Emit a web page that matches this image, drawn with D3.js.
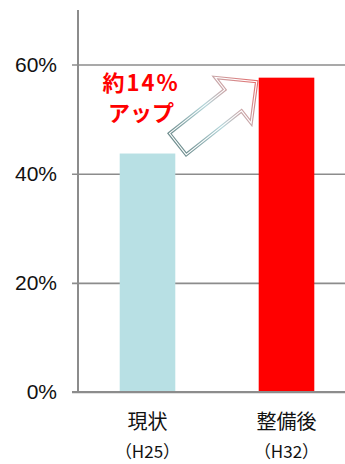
<!DOCTYPE html>
<html>
<head>
<meta charset="utf-8">
<script src="https://cdn.jsdelivr.net/npm/d3@7"></script>
<style>
  body { margin: 0; background: #fff; }
  svg { display: block; }
</style>
</head>
<body>
<div class="chart"></div>
<script>
const categories = ['現状', '整備後'];
const subLabels = ['（H25）', '（H32）'];
const values = [43.7, 57.6];
const colors = ['#b8e0e4', '#ff0000'];
const ticks = [0, 20, 40, 60];
const note = ['約14%', 'アップ'];

const width = 345, height = 464;
const svg = d3.select('.chart').append('svg')
    .attr('width', width)
    .attr('height', height);

const y = d3.scaleLinear().domain([0, 70]).range([392, 10]);
const x = d3.scaleBand().domain(categories).range([78, 356])
    .paddingInner(0.6).paddingOuter(0.3);

// gridlines + tick labels
const yAxis = d3.axisLeft(y).tickValues(ticks)
    .tickFormat(d => d + '%')
    .tickSize(-(width - 72))
    .tickPadding(15);
const gy = svg.append('g').attr('transform', 'translate(72,0)').call(yAxis);
gy.select('.domain').remove();
gy.selectAll('.tick line').attr('stroke', '#8c8c8c').attr('stroke-width', 1.6);
gy.selectAll('.tick text')
    .attr('fill', '#111')
    .attr('font-family', 'Liberation Sans, Arial, sans-serif')
    .attr('font-size', 21);

// vertical axis line
svg.append('line')
    .attr('x1', 78).attr('x2', 78)
    .attr('y1', y(70)).attr('y2', y(0) + 1)
    .attr('stroke', '#8c8c8c').attr('stroke-width', 2);

// bars
svg.selectAll('rect.bar').data(values).enter().append('rect')
    .attr('class', 'bar')
    .attr('x', (d, i) => x(categories[i]))
    .attr('width', x.bandwidth())
    .attr('y', d => y(d))
    .attr('height', d => y(0) - y(d))
    .attr('fill', (d, i) => colors[i]);

// redraw baseline above bars
svg.append('line')
    .attr('x1', 72).attr('x2', width)
    .attr('y1', y(0)).attr('y2', y(0))
    .attr('stroke', '#8c8c8c').attr('stroke-width', 1.8);

// category labels
const jp = '"Noto Sans CJK JP", sans-serif';
svg.selectAll('text.cat').data(categories).enter().append('text')
    .attr('class', 'cat')
    .attr('x', d => x(d) + x.bandwidth() / 2)
    .attr('y', 429)
    .attr('text-anchor', 'middle')
    .attr('font-family', jp)
    .attr('font-size', 20)
    .attr('fill', '#111')
    .text(d => d);
svg.selectAll('text.sub').data(subLabels).enter().append('text')
    .attr('class', 'sub')
    .attr('x', (d, i) => x(categories[i]) + x.bandwidth() / 2)
    .attr('y', 458)
    .attr('text-anchor', 'middle')
    .attr('font-family', jp)
    .attr('font-size', 17)
    .attr('fill', '#111')
    .text(d => d);

// arrow from bar 1 to bar 2
const tail = [x(categories[0]) + x.bandwidth() + 2.5, y(values[0]) - 9.5];
const tip = [x(categories[1]) - 2, y(values[1]) + 4];
const dx = tip[0] - tail[0], dy = tip[1] - tail[1];
const L = Math.hypot(dx, dy);
const ang = Math.atan2(dy, dx) * 180 / Math.PI;
const h = 13.5, H = 29, hl = 30;
const pts = [[0, -h], [L - hl, -h], [L - hl, -H], [L, 0], [L - hl, H], [L - hl, h], [0, h]];

const grad = svg.append('defs').append('linearGradient')
    .attr('id', 'arrowGrad')
    .attr('gradientUnits', 'userSpaceOnUse')
    .attr('x1', 0).attr('y1', 0).attr('x2', L).attr('y2', 0);
grad.append('stop').attr('offset', '0%').attr('stop-color', '#6f8e8f');
grad.append('stop').attr('offset', '45%').attr('stop-color', '#b4d6da');
grad.append('stop').attr('offset', '100%').attr('stop-color', '#e46a6a');

const ga = svg.append('g')
    .attr('transform', `translate(${tail[0]},${tail[1]}) rotate(${ang})`);
const line = d3.line();
ga.append('path')
    .attr('d', line(pts) + 'Z')
    .attr('fill', '#fff')
    .attr('stroke', 'url(#arrowGrad)')
    .attr('stroke-width', 3.4)
    .attr('stroke-linejoin', 'miter');
ga.append('path')
    .attr('d', line(pts) + 'Z')
    .attr('fill', 'none')
    .attr('stroke', '#fff')
    .attr('stroke-width', 1.1)
    .attr('stroke-linejoin', 'miter');

// annotation text
svg.selectAll('text.note').data(note).enter().append('text')
    .attr('class', 'note')
    .attr('x', 141)
    .attr('y', (d, i) => 91 + i * 30)
    .attr('text-anchor', 'middle')
    .attr('font-family', jp)
    .attr('font-weight', 'bold')
    .attr('font-size', 22)
    .attr('letter-spacing', (d, i) => i === 0 ? 2 : 0)
    .attr('fill', '#ff0000')
    .text(d => d);
</script>
</body>
</html>
